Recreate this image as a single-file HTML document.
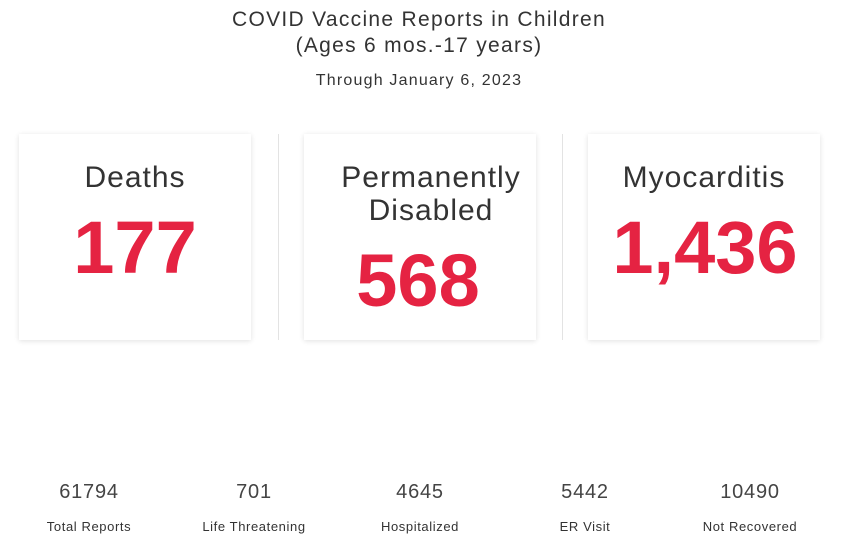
<!DOCTYPE html>
<html><head><style>
body{margin:0;width:858px;height:554px;background:#fff;font-family:"Liberation Sans",sans-serif;color:#333;position:relative;overflow:hidden}
.t{position:absolute;left:0;width:838px;text-align:center;font-size:21px;color:#333;letter-spacing:1.3px}
.card{position:absolute;top:134px;width:232px;height:206px;background:#fff;box-shadow:0 1px 5px rgba(0,0,0,0.12);text-align:center}
.lbl{position:absolute;left:0;width:100%;font-size:30px;line-height:33px;color:#333;letter-spacing:1px}
.num{position:absolute;left:0;width:100%;font-size:74px;font-weight:bold;color:#e52342;line-height:80px;letter-spacing:0px}
.div{position:absolute;top:134px;width:1px;height:206px;background:#e3e3e3}
.s{position:absolute;width:160px;text-align:center}
.s .a{position:absolute;top:481px;width:160px;font-size:20px;color:#444;letter-spacing:0.8px}
.s .b{position:absolute;top:519px;width:160px;font-size:13px;color:#333;letter-spacing:0.6px}
</style></head><body>
<div class="t" style="top:8px">COVID Vaccine Reports in Children</div>
<div class="t" style="top:34px">(Ages 6 mos.-17 years)</div>
<div class="t" style="top:72px;font-size:16px;letter-spacing:1.2px">Through January 6, 2023</div>
<div class="card" style="left:19px"><div class="lbl" style="top:27px">Deaths</div><div class="num" style="top:74px">177</div></div>
<div class="div" style="left:278px"></div>
<div class="card" style="left:304px"><div class="lbl" style="top:27px;left:11px">Permanently<br>Disabled</div><div class="num" style="top:107px;left:-2px">568</div></div>
<div class="div" style="left:562px"></div>
<div class="card" style="left:588px"><div class="lbl" style="top:27px;left:0px">Myocarditis</div><div class="num" style="top:74px;left:1px">1,436</div></div>
<div class="s" style="left:9px"><div class="a">61794</div><div class="b">Total Reports</div></div>
<div class="s" style="left:174px"><div class="a">701</div><div class="b">Life Threatening</div></div>
<div class="s" style="left:340px"><div class="a">4645</div><div class="b">Hospitalized</div></div>
<div class="s" style="left:505px"><div class="a">5442</div><div class="b">ER Visit</div></div>
<div class="s" style="left:670px"><div class="a">10490</div><div class="b">Not Recovered</div></div>
</body></html>
